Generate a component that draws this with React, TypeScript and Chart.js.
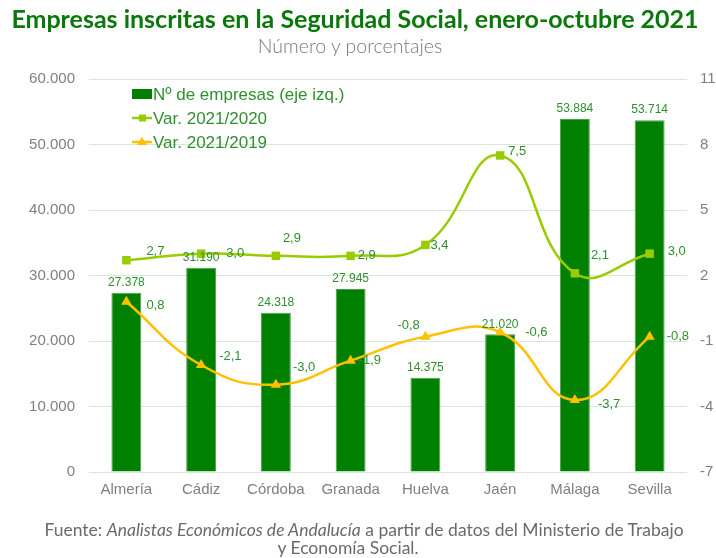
import React, { useEffect, useRef } from 'react';
import { Chart, registerables } from 'chart.js';

Chart.register(...registerables);

const categories = ['Almería', 'Cádiz', 'Córdoba', 'Granada', 'Huelva', 'Jaén', 'Málaga', 'Sevilla'];
const empresas = [27378, 31190, 24318, 27945, 14375, 21020, 53884, 53714];
const var2020 = [2.7, 3.0, 2.9, 2.9, 3.4, 7.5, 2.1, 3.0];
const var2019 = [0.8, -2.1, -3.0, -1.9, -0.8, -0.6, -3.7, -0.8];
const seriesNames = ['Nº de empresas (eje izq.)', 'Var. 2021/2020', 'Var. 2021/2019'];

const leftMin = 0;
const leftMax = 60000;
const leftStep = 10000;
const rightMin = -7;
const rightMax = 11;
const rightStep = 3;

// label placement offsets (style only)
const off2020 = [[20, -9], [25, 0], [7, -17], [7, 0], [5, 0], [8, -4], [16, -18], [18, -2]];
const off2019 = [[20, 4], [18, -9], [17, -17], [8, 0], [-28, -11], [25, 0], [23, 4], [17, 0]];

const BAR_COLOR = '#008000';
const C2020 = '#99cc00';
const C2019 = '#ffc000';
const LABEL_COLOR = '#2f8f2f';
const TICK_COLOR = '#7f7f7f';
const GRID_COLOR = '#d8e8d8';
const FONT = '"Liberation Sans", Arial, sans-serif';

const fmtThousands = (n: number) => n.toString().replace(/\B(?=(\d{3})+(?!\d))/g, '.');
const fmtDec = (n: number) => n.toFixed(1).replace('.', ',');

const labelPlugin = {
  id: 'valueLabels',
  afterDatasetsDraw(chart: any) {
    const ctx = chart.ctx;
    ctx.save();
    ctx.fillStyle = LABEL_COLOR;
    ctx.font = '12px ' + FONT;
    ctx.textAlign = 'center';
    ctx.textBaseline = 'bottom';
    chart.getDatasetMeta(0).data.forEach((el: any, i: number) => {
      ctx.fillText(fmtThousands(empresas[i]), el.x, el.y - 4);
    });
    ctx.font = '13px ' + FONT;
    ctx.textAlign = 'left';
    ctx.textBaseline = 'middle';
    chart.getDatasetMeta(1).data.forEach((el: any, i: number) => {
      ctx.fillText(fmtDec(var2020[i]), el.x + off2020[i][0], el.y + off2020[i][1]);
    });
    chart.getDatasetMeta(2).data.forEach((el: any, i: number) => {
      ctx.fillText(fmtDec(var2019[i]), el.x + off2019[i][0], el.y + off2019[i][1]);
    });
    ctx.restore();
  },
};

const legendPlugin = {
  id: 'customLegend',
  afterDraw(chart: any) {
    const ctx = chart.ctx;
    const { left, top } = chart.chartArea;
    const x0 = left + 43;
    const rows = [top + 15, top + 39, top + 63];
    ctx.save();
    ctx.fillStyle = BAR_COLOR;
    ctx.fillRect(x0, rows[0] - 5, 20, 10);
    ctx.strokeStyle = C2020;
    ctx.lineWidth = 2.5;
    ctx.beginPath();
    ctx.moveTo(x0, rows[1]);
    ctx.lineTo(x0 + 20, rows[1]);
    ctx.stroke();
    ctx.fillStyle = C2020;
    ctx.fillRect(x0 + 7, rows[1] - 3.5, 7, 7);
    ctx.strokeStyle = C2019;
    ctx.beginPath();
    ctx.moveTo(x0, rows[2]);
    ctx.lineTo(x0 + 20, rows[2]);
    ctx.stroke();
    ctx.fillStyle = C2019;
    ctx.beginPath();
    ctx.moveTo(x0 + 10, rows[2] - 5);
    ctx.lineTo(x0 + 15, rows[2] + 3);
    ctx.lineTo(x0 + 5, rows[2] + 3);
    ctx.closePath();
    ctx.fill();
    ctx.fillStyle = LABEL_COLOR;
    ctx.font = '17px ' + FONT;
    ctx.textAlign = 'left';
    ctx.textBaseline = 'middle';
    seriesNames.forEach((s, i) => ctx.fillText(s, x0 + 21, rows[i] + 1));
    ctx.restore();
  },
};

export default function App() {
  const ref = useRef<HTMLCanvasElement | null>(null);

  useEffect(() => {
    if (!ref.current) return;
    const chart = new Chart(ref.current, {
      type: 'bar',
      data: {
        labels: categories,
        datasets: [
          {
            type: 'bar',
            label: seriesNames[0],
            data: empresas,
            backgroundColor: BAR_COLOR,
            borderColor: '#4aa04a',
            borderWidth: 1,
            yAxisID: 'y',
            barPercentage: 0.4,
            categoryPercentage: 1,
            order: 3,
          },
          {
            type: 'line',
            label: seriesNames[1],
            data: var2020,
            borderColor: C2020,
            backgroundColor: C2020,
            borderWidth: 2.5,
            pointStyle: 'rect',
            pointRadius: 6,
            pointBorderWidth: 0,
            tension: 0.45,
            yAxisID: 'y1',
            order: 1,
          },
          {
            type: 'line',
            label: seriesNames[2],
            data: var2019,
            borderColor: C2019,
            backgroundColor: C2019,
            borderWidth: 2.5,
            pointStyle: 'triangle',
            pointRadius: 6,
            pointBorderWidth: 0,
            tension: 0.45,
            yAxisID: 'y1',
            order: 2,
          },
        ],
      } as any,
      options: {
        responsive: false,
        animation: false,
        layout: { padding: { left: 0, right: 0, top: 79, bottom: 56 } },
        plugins: {
          legend: { display: false },
          title: { display: false },
          tooltip: { enabled: false },
        },
        scales: {
          x: {
            grid: { display: false, drawTicks: false },
            border: { display: false },
            ticks: { color: TICK_COLOR, font: { family: FONT, size: 15 }, padding: 9 },
            afterFit: (s: any) => { s.height = 30; },
          },
          y: {
            position: 'left',
            min: leftMin,
            max: leftMax,
            border: { display: false },
            grid: { color: GRID_COLOR, lineWidth: 1, drawTicks: false },
            ticks: {
              stepSize: leftStep,
              color: TICK_COLOR,
              font: { family: FONT, size: 15 },
              padding: 14,
              callback: (v: any) => fmtThousands(Number(v)),
            },
            afterFit: (s: any) => { s.width = 89; },
          },
          y1: {
            position: 'right',
            min: rightMin,
            max: rightMax,
            border: { display: false },
            grid: { display: false, drawTicks: false },
            ticks: {
              stepSize: rightStep,
              color: TICK_COLOR,
              font: { family: FONT, size: 15 },
              padding: 13,
            },
            afterFit: (s: any) => { s.width = 29; },
          },
        },
      } as any,
      plugins: [labelPlugin, legendPlugin],
    });
    return () => chart.destroy();
  }, []);

  return (
    <div style={{ position: 'absolute', left: 0, top: 0, width: 716, height: 558, background: '#fff', overflow: 'hidden' }}>
      <canvas ref={ref} width={716} height={558} style={{ position: 'absolute', left: 0, top: 0 }} />
      <div style={{ position: 'absolute', left: 0, top: 3, width: 710, textAlign: 'center', fontFamily: 'Lato, sans-serif', fontWeight: 700, fontSize: 25, color: '#0a780a', lineHeight: '30px', whiteSpace: 'nowrap' }}>
        Empresas inscritas en la Seguridad Social, enero-octubre 2021
      </div>
      <div style={{ position: 'absolute', left: 0, top: 34, width: 700, textAlign: 'center', fontFamily: 'Lato, sans-serif', fontWeight: 300, fontSize: 19.5, color: '#7a7a7a', lineHeight: '24px' }}>
        Número y porcentajes
      </div>
      <div style={{ position: 'absolute', left: 0, top: 521, width: 728, textAlign: 'center', fontFamily: 'Lato, sans-serif', fontSize: 17.5, color: '#6a6a6a', lineHeight: '18px', whiteSpace: 'nowrap' }}>
        Fuente: <i>Analistas Económicos de Andalucía</i> a partir de datos del Ministerio de Trabajo
      </div>
      <div style={{ position: 'absolute', left: 0, top: 539, width: 696, textAlign: 'center', fontFamily: 'Lato, sans-serif', fontSize: 17.5, color: '#6a6a6a', lineHeight: '18px' }}>
        y Economía Social.
      </div>
    </div>
  );
}
